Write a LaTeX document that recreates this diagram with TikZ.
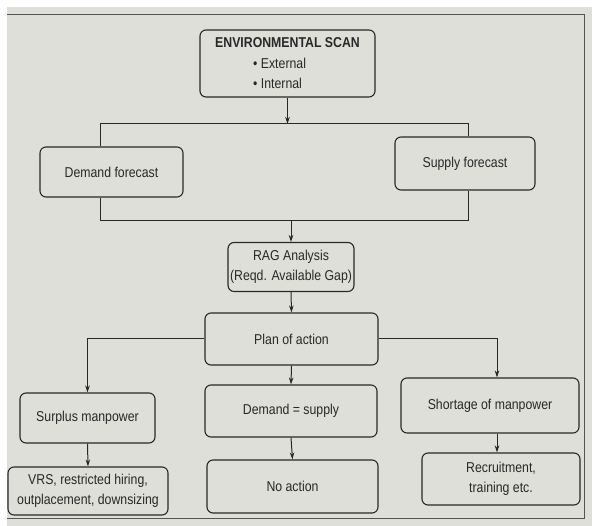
\documentclass[tikz,border=0pt]{standalone}
\usepackage{fontspec}
\setmainfont{Liberation Sans}[FakeStretch=0.86]
\usetikzlibrary{arrows.meta}
\definecolor{paper}{RGB}{222,223,217}
\definecolor{ink}{RGB}{40,40,40}
\tikzset{
  box/.style={draw=ink, line width=1.1pt, rounded corners=6pt, fill=paper,
    text=ink, align=center, inner sep=2pt, font=\fontsize{14.3}{20}\selectfont},
  link/.style={draw=ink, line width=1.0pt},
  arr/.style={link, -{Stealth[length=7pt,width=4.5pt]}},
  frame/.style={draw=ink!80, line width=1.0pt}
}
\newcommand{\bulletitem}[1]{\makebox[4.8em][l]{\textbullet\ #1}}
\begin{document}
\begin{tikzpicture}[x=1pt, y=-1pt]
  % page and paper
  \fill[white] (0,0) rectangle (592,526);
  \fill[paper] (7,7) rectangle (592,526);
  \useasboundingbox (0,0) rectangle (592,526);
  \draw[frame] (7,15) -- (584,15) -- (584,518) -- (7,518);

  % boxes
  \node[box, minimum width=175pt, minimum height=67pt] (env) at (287.5,63.5)
    {\textbf{ENVIRONMENTAL SCAN}\\[1pt]
     \bulletitem{External}\\ \bulletitem{Internal}};
  \node[box, minimum width=143pt, minimum height=50pt] (dem) at (111.5,172) {Demand forecast};
  \node[box, minimum width=140pt, minimum height=53pt] (sup) at (465,163.5) {Supply forecast};
  \node[box, minimum width=124pt, minimum height=49pt] (rag) at (291,267)
    {RAG Analysis\\(Reqd. Available Gap)};
  \node[box, minimum width=173pt, minimum height=52pt] (plan) at (291.5,339) {Plan of action};
  \node[box, minimum width=135pt, minimum height=50pt] (surp) at (87.5,418) {Surplus manpower};
  \node[box, minimum width=172pt, minimum height=52pt] (dsup) at (291,411) {Demand = supply};
  \node[box, minimum width=178pt, minimum height=55pt] (short) at (490,405.5) {Shortage of manpower};
  \node[box, minimum width=160pt, minimum height=48pt] (vrs) at (88,491)
    {VRS, restricted hiring,\\outplacement, downsizing};
  \node[box, minimum width=171pt, minimum height=53pt] (noact) at (292.5,486.5) {No action};
  \node[box, minimum width=158pt, minimum height=52pt] (recr) at (501,479)
    {Recruitment,\\training etc.};

  % junction points
  \coordinate (ta) at (100,124);
  \coordinate (tb) at (468,124);
  \coordinate (ba) at (100,221);
  \coordinate (bb) at (468,221);
  \coordinate (ka) at (497,0);

  % scan splits into the two forecasts
  \draw[link] (dem.north -| ta) -- (ta) -- (tb) -- (sup.north -| tb);
  \draw[arr] (env.south) -- (env.south |- ta);
  % forecasts join into the gap analysis
  \draw[link] (dem.south -| ba) -- (ba) -- (bb) -- (sup.south -| bb);
  \draw[arr] (rag.north |- ba) -- (rag.north);
  \draw[arr] (rag.south) -- (plan.north);

  % three outcomes of the plan
  \draw[arr] (plan.west) -| (surp.north);
  \draw[arr] (plan.south) -- (dsup.north);
  \draw[arr] (plan.east) -| (short.north -| ka);
  \draw[arr] (surp.south) -- (vrs.north);
  \draw[arr] (dsup.south) -- (noact.north);
  \draw[arr] (short.south -| ka) -- (recr.north -| ka);
\end{tikzpicture}
\end{document}
